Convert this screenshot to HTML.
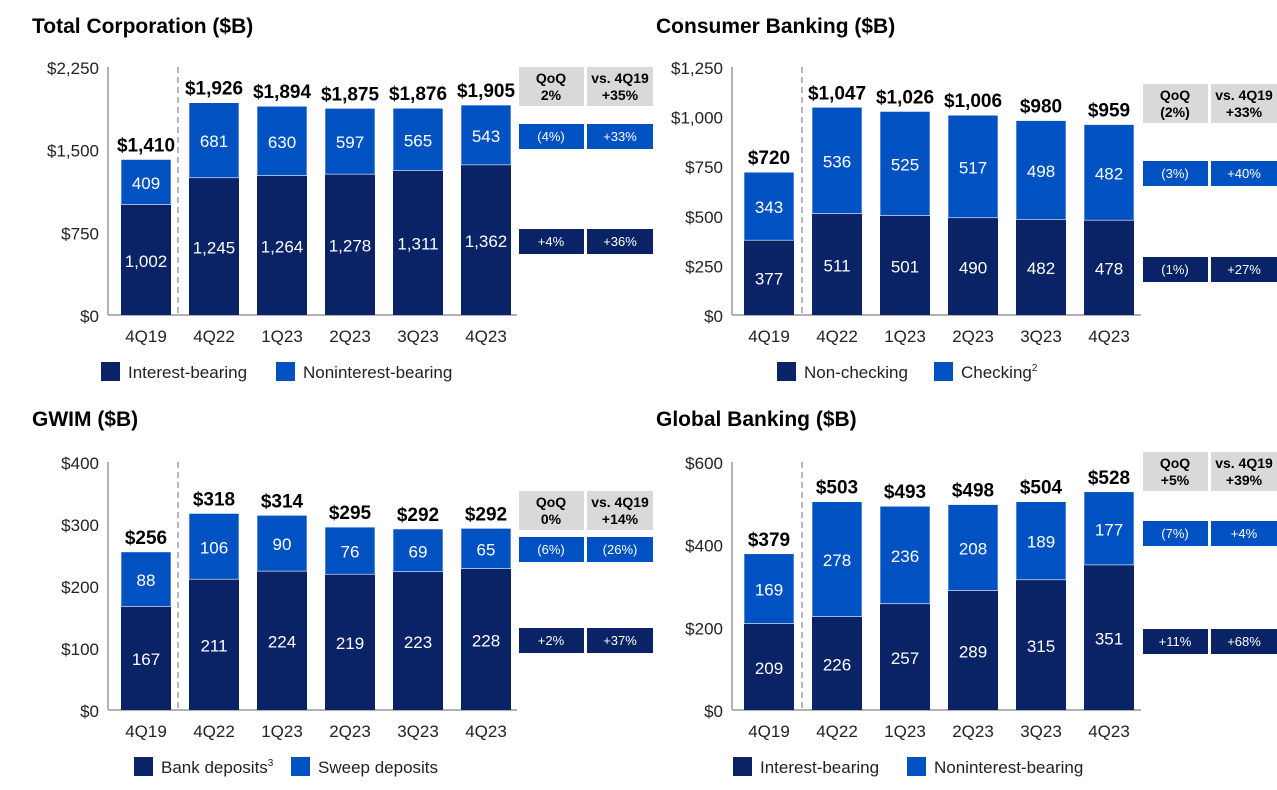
<!DOCTYPE html>
<html><head><meta charset="utf-8"><style>
html,body{margin:0;padding:0;background:#fff;}
body{width:1277px;height:785px;overflow:hidden;font-family:"Liberation Sans",sans-serif;}
svg text{font-family:"Liberation Sans",sans-serif;}
</style></head><body>
<svg id="s" width="1277" height="785"></svg>
<script>
const categories = ["4Q19","4Q22","1Q23","2Q23","3Q23","4Q23"];
const totalBottom = [1002,1245,1264,1278,1311,1362];
const totalTop = [409,681,630,597,565,543];
const totalSums = ["$1,410","$1,926","$1,894","$1,875","$1,876","$1,905"];
const totalTicks = [0,750,1500,2250];
const totalTickLabels = ["$0","$750","$1,500","$2,250"];
const totalTable = ["QoQ\n2%","vs. 4Q19\n+35%","(4%)","+33%","+4%","+36%"];
const consBottom = [377,511,501,490,482,478];
const consTop = [343,536,525,517,498,482];
const consSums = ["$720","$1,047","$1,026","$1,006","$980","$959"];
const consTicks = [0,250,500,750,1000,1250];
const consTickLabels = ["$0","$250","$500","$750","$1,000","$1,250"];
const consTable = ["QoQ\n(2%)","vs. 4Q19\n+33%","(3%)","+40%","(1%)","+27%"];
const gwimBottom = [167,211,224,219,223,228];
const gwimTop = [88,106,90,76,69,65];
const gwimSums = ["$256","$318","$314","$295","$292","$292"];
const gwimTicks = [0,100,200,300,400];
const gwimTickLabels = ["$0","$100","$200","$300","$400"];
const gwimTable = ["QoQ\n0%","vs. 4Q19\n+14%","(6%)","(26%)","+2%","+37%"];
const gbBottom = [209,226,257,289,315,351];
const gbTop = [169,278,236,208,189,177];
const gbSums = ["$379","$503","$493","$498","$504","$528"];
const gbTicks = [0,200,400,600];
const gbTickLabels = ["$0","$200","$400","$600"];
const gbTable = ["QoQ\n+5%","vs. 4Q19\n+39%","(7%)","+4%","+11%","+68%"];

const NS="http://www.w3.org/2000/svg", svg=document.getElementById('s');
const DARK="#0a2266", BLUE="#0052c2";
function mk(tag,at,parent){const e=document.createElementNS(NS,tag);for(const k in at)e.setAttribute(k,at[k]);(parent||svg).appendChild(e);return e;}
function txt(x,y,s,size,fill,weight,anchor,parent){const t=mk('text',{x:x,y:y,'font-size':size,fill:fill,'font-weight':weight||'normal','text-anchor':anchor||'middle'},parent);t.textContent=s;return t;}

function panel(o){
  const g=mk('g',{});
  
  
  const t=txt(o.tx,33,o.title,21,'#000','bold','start',g);
  t.setAttribute('transform','translate(0,'+o.dy+')');
  
  
  const max=o.ticks[o.ticks.length-1];
  const y=v=>o.base-(v/max)*(o.base-o.top);
  const xc=i=>o.x0+i*68;
  o.ticks.forEach((v,i)=>{const l=txt(o.ax-9,y(v)+7,o.tickLabels[i],17,'#222','normal','end',g);
    });
  const ax=mk('line',{x1:o.ax,y1:o.top,x2:o.ax,y2:o.base,stroke:'#999','stroke-width':1.5},g);
  
  const bx=mk('line',{x1:o.ax,y1:o.base,x2:o.ax+409,y2:o.base,stroke:'#999','stroke-width':1.5},g);
  
  const dl=mk('line',{x1:o.ax+70,y1:o.top,x2:o.ax+70,y2:o.base,stroke:'#888','stroke-width':1.2,'stroke-dasharray':'6,4'},g);
  
  o.cats.forEach((c,i)=>{
    const cx=xc(i),w=50,b=o.bottom[i],tp=o.topv[i];
    const r1=mk('rect',{x:cx-w/2,y:y(b),width:w,height:o.base-y(b),fill:DARK},g);
    
    const r2=mk('rect',{x:cx-w/2,y:y(b+tp),width:w,height:y(b)-y(b+tp),fill:BLUE,stroke:'#fff','stroke-width':0.6},g);
    
    const l1=txt(cx,(y(b)+o.base)/2+7,b.toLocaleString('en-US'),17,'#fff','normal','middle',g);
    
    const l2=txt(cx,(y(b)+y(b+tp))/2+7,String(tp),17,'#fff','normal','middle',g);
    
    const l3=txt(cx,y(b+tp)-8,o.sums[i],19,'#000','bold','middle',g);
    
    const l4=txt(cx,o.base+27,c,17,'#222','normal','middle',g);
    
  });
  // table
  const cols=[o.ax+411,o.ax+479];
  const hh=mk('g',{},g);
  const rows=[[o.thy,39,'#d9d9d9','#000'],[o.r1y,25,BLUE,'#fff'],[o.r2y,25,DARK,'#fff']];
  rows.forEach((r,ri)=>{cols.forEach((cx,ci)=>{
    const rc=mk('rect',{x:cx,y:r[0],width:ci?66:65,height:r[1],fill:r[2]},hh);
    
    const s=o.table[ri*2+ci];const parts=s.split('\n');
    parts.forEach((p,pi)=>{const tt=txt(cx+(ci?33:32),r[0]+(parts.length>1?16+pi*17:17),p,ri?13:14,r[3],ri?'normal':'bold','middle',hh);
      });
  });});
  // legend
  o.legend.forEach((L,i)=>{
    const lr=mk('rect',{x:L[0],y:o.ly-9,width:19,height:19,fill:i?BLUE:DARK},g);
    
    const lt=txt(L[0]+27,o.ly+7,L[1],17,'#222','normal','start',g);
    
    if(L[2]){const sp=mk('tspan',{'font-size':10,dy:-7},lt);sp.textContent=L[2];}
  });
}
panel({name:'total-corporation-chart',title:'Total Corporation ($B)',tx:32,dy:0,ax:108,x0:146,top:67,base:315,cats:categories,bottom:totalBottom,topv:totalTop,sums:totalSums,ticks:totalTicks,tickLabels:totalTickLabels,table:totalTable,thy:67,r1y:124,r2y:229,ly:371,s1key:'interest-bearing',s2key:'noninterest-bearing',legend:[[101,'Interest-bearing'],[276,'Noninterest-bearing']]});
panel({name:'consumer-banking-chart',title:'Consumer Banking ($B)',tx:656,dy:0,ax:732,x0:769,top:67,base:315,cats:categories,bottom:consBottom,topv:consTop,sums:consSums,ticks:consTicks,tickLabels:consTickLabels,table:consTable,thy:84,r1y:161,r2y:257,ly:371,s1key:'non-checking',s2key:'checking',legend:[[777,'Non-checking'],[934,'Checking','2']]});
panel({name:'gwim-chart',title:'GWIM ($B)',tx:32,dy:393,ax:108,x0:146,top:462,base:710,cats:categories,bottom:gwimBottom,topv:gwimTop,sums:gwimSums,ticks:gwimTicks,tickLabels:gwimTickLabels,table:gwimTable,thy:491,r1y:537,r2y:628,ly:766,s1key:'bank-deposits',s2key:'sweep-deposits',legend:[[134,'Bank deposits','3'],[291,'Sweep deposits']]});
panel({name:'global-banking-chart',title:'Global Banking ($B)',tx:656,dy:393,ax:732,x0:769,top:462,base:710,cats:categories,bottom:gbBottom,topv:gbTop,sums:gbSums,ticks:gbTicks,tickLabels:gbTickLabels,table:gbTable,thy:452,r1y:521,r2y:629,ly:766,s1key:'interest-bearing',s2key:'noninterest-bearing',legend:[[733,'Interest-bearing'],[907,'Noninterest-bearing']]});
</script>
</body></html>
